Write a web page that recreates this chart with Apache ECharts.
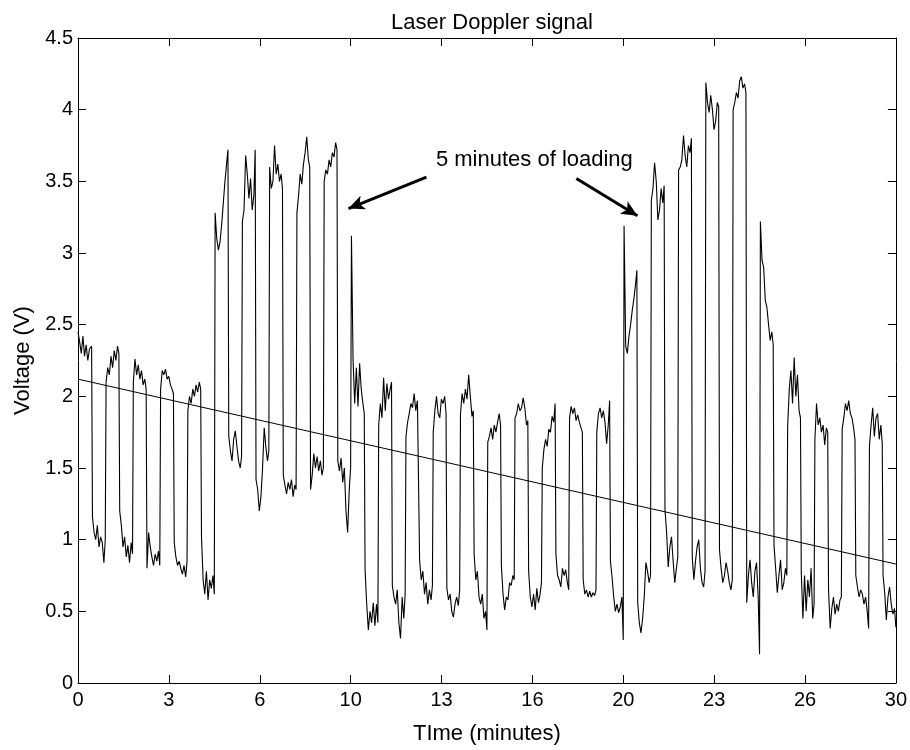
<!DOCTYPE html>
<html>
<head>
<meta charset="utf-8">
<script src="https://cdn.jsdelivr.net/npm/echarts@6/dist/echarts.min.js"></script>
<style>html,body{margin:0;padding:0;background:#fff;}#c{width:910px;height:750px;}</style>
</head>
<body>
<div id="c"></div>
<script>
// Laser Doppler signal: [time (min), voltage (V)]
const signal = [
[0.00,2.45],[0.06,2.38],[0.12,2.30],[0.18,2.42],[0.24,2.28],[0.30,2.36],[0.36,2.25],[0.42,2.33],[0.50,2.35],
[0.53,1.16],[0.59,1.05],[0.65,1.00],[0.71,1.10],[0.77,0.95],[0.83,1.02],[0.89,0.98],[0.95,0.84],[1.00,1.00],
[1.03,2.10],[1.09,2.20],[1.15,2.15],[1.21,2.28],[1.27,2.20],[1.33,2.32],[1.39,2.25],[1.45,2.35],[1.50,2.30],
[1.53,1.20],[1.59,1.10],[1.65,0.95],[1.71,1.02],[1.77,0.88],[1.83,0.96],[1.89,0.84],[1.95,0.98],[2.00,0.90],
[2.03,2.10],[2.09,2.26],[2.15,2.15],[2.21,2.22],[2.27,2.12],[2.33,2.18],[2.39,2.08],[2.45,2.12],[2.50,2.05],
[2.53,0.80],[2.59,1.05],[2.65,0.95],[2.71,0.88],[2.77,0.82],[2.83,0.90],[2.89,0.85],[2.95,0.92],[3.00,0.82],
[3.03,2.05],[3.09,2.18],[3.15,2.15],[3.21,2.19],[3.27,2.12],[3.33,2.14],[3.39,2.08],[3.45,2.05],[3.50,2.02],
[3.53,0.98],[3.59,0.88],[3.65,0.82],[3.71,0.85],[3.77,0.80],[3.83,0.76],[3.89,0.82],[3.95,0.74],[4.00,0.85],
[4.03,1.90],[4.09,2.00],[4.15,1.95],[4.21,2.05],[4.27,2.00],[4.33,2.08],[4.39,2.03],[4.45,2.10],[4.50,2.05],
[4.53,1.02],[4.59,0.72],[4.65,0.62],[4.71,0.78],[4.77,0.58],[4.83,0.72],[4.89,0.66],[4.95,0.75],[5.00,0.62],
[5.03,3.28],[5.09,3.10],[5.15,3.02],[5.21,3.08],[5.27,3.20],[5.33,3.35],[5.39,3.50],[5.45,3.62],[5.50,3.72],
[5.53,1.72],[5.59,1.62],[5.65,1.55],[5.71,1.70],[5.77,1.76],[5.83,1.65],[5.89,1.55],[5.95,1.50],[6.00,1.58],
[6.03,3.22],[6.09,3.30],[6.15,3.68],[6.21,3.55],[6.27,3.38],[6.33,3.52],[6.39,3.30],[6.45,3.40],[6.50,3.72],
[6.53,1.42],[6.59,1.35],[6.65,1.20],[6.71,1.30],[6.77,1.50],[6.83,1.78],[6.89,1.65],[6.95,1.55],[7.00,1.62],
[7.03,3.60],[7.09,3.45],[7.15,3.50],[7.21,3.75],[7.27,3.55],[7.33,3.62],[7.39,3.50],[7.45,3.55],[7.50,3.45],
[7.53,1.45],[7.59,1.38],[7.65,1.32],[7.71,1.40],[7.77,1.35],[7.83,1.42],[7.89,1.30],[7.95,1.38],[8.00,1.35],
[8.03,3.28],[8.09,3.40],[8.15,3.55],[8.21,3.48],[8.27,3.62],[8.33,3.70],[8.39,3.81],[8.45,3.65],[8.50,3.60],
[8.53,1.35],[8.59,1.45],[8.65,1.60],[8.71,1.50],[8.77,1.58],[8.83,1.48],[8.89,1.55],[8.95,1.45],[9.00,1.50],
[9.03,3.50],[9.09,3.58],[9.15,3.55],[9.21,3.65],[9.27,3.60],[9.33,3.70],[9.39,3.67],[9.45,3.77],[9.50,3.72],
[9.53,1.55],[9.59,1.48],[9.65,1.57],[9.71,1.40],[9.77,1.50],[9.83,1.20],[9.89,1.05],[9.95,1.35],[10.00,1.50],
[10.03,3.12],[10.09,2.25],[10.15,1.95],[10.21,2.20],[10.27,1.93],[10.33,2.23],[10.39,2.05],[10.45,1.95],[10.50,1.88],
[10.53,0.79],[10.59,0.55],[10.65,0.37],[10.71,0.50],[10.77,0.42],[10.83,0.56],[10.89,0.40],[10.95,0.55],[11.00,0.42],
[11.03,1.80],[11.09,1.95],[11.15,1.85],[11.21,2.13],[11.27,1.90],[11.33,2.09],[11.39,1.98],[11.45,2.05],[11.50,2.10],
[11.53,0.68],[11.59,0.60],[11.65,0.55],[11.71,0.65],[11.77,0.42],[11.83,0.31],[11.89,0.60],[11.95,0.45],[12.00,0.62],
[12.03,1.72],[12.09,1.82],[12.15,1.88],[12.21,1.95],[12.27,1.92],[12.33,2.02],[12.39,1.90],[12.45,1.97],[12.50,1.98],
[12.53,0.86],[12.59,0.72],[12.65,0.78],[12.71,0.62],[12.77,0.70],[12.83,0.55],[12.89,0.65],[12.95,0.58],[13.00,0.68],
[13.03,1.75],[13.09,1.90],[13.15,2.00],[13.21,1.88],[13.27,1.85],[13.33,1.98],[13.39,1.95],[13.45,2.00],[13.50,1.88],
[13.53,0.66],[13.59,0.58],[13.65,0.62],[13.71,0.50],[13.77,0.46],[13.83,0.55],[13.89,0.60],[13.95,0.54],[14.00,0.65],
[14.03,1.88],[14.09,2.02],[14.15,1.95],[14.21,2.05],[14.27,1.98],[14.33,2.15],[14.39,2.00],[14.45,1.86],[14.50,1.90],
[14.53,0.90],[14.59,0.72],[14.65,0.78],[14.71,0.60],[14.77,0.55],[14.83,0.62],[14.89,0.45],[14.95,0.50],[15.00,0.37],
[15.03,1.68],[15.09,1.72],[15.15,1.78],[15.21,1.70],[15.27,1.80],[15.33,1.75],[15.39,1.82],[15.45,1.88],[15.50,1.80],
[15.53,0.82],[15.59,0.62],[15.65,0.51],[15.71,0.60],[15.77,0.58],[15.83,0.70],[15.89,0.68],[15.95,0.75],[16.00,0.72],
[16.03,1.85],[16.09,1.88],[16.15,1.95],[16.21,1.90],[16.27,1.92],[16.33,1.99],[16.39,1.92],[16.45,1.80],[16.50,1.83],
[16.53,0.78],[16.59,0.60],[16.65,0.53],[16.71,0.62],[16.77,0.51],[16.83,0.66],[16.89,0.56],[16.95,0.62],[17.00,0.70],
[17.03,1.50],[17.09,1.63],[17.15,1.70],[17.21,1.65],[17.27,1.77],[17.33,1.75],[17.39,1.86],[17.45,1.82],[17.50,1.95],
[17.53,0.90],[17.59,0.75],[17.65,0.72],[17.71,0.67],[17.77,0.80],[17.83,0.75],[17.89,0.79],[17.95,0.70],[18.00,0.65],
[18.03,1.85],[18.09,1.93],[18.15,1.88],[18.21,1.92],[18.27,1.83],[18.33,1.87],[18.39,1.82],[18.45,1.78],[18.50,1.75],
[18.53,0.72],[18.59,0.62],[18.65,0.65],[18.71,0.60],[18.77,0.64],[18.83,0.60],[18.89,0.63],[18.95,0.61],[19.00,0.65],
[19.03,1.75],[19.09,1.88],[19.15,1.92],[19.21,1.85],[19.27,1.90],[19.33,1.82],[19.39,1.67],[19.45,1.80],[19.50,1.97],
[19.53,0.85],[19.59,0.74],[19.65,0.60],[19.71,0.50],[19.77,0.55],[19.83,0.49],[19.89,0.53],[19.95,0.60],[20.00,0.30],
[20.03,3.19],[20.09,2.35],[20.15,2.30],[20.21,2.42],[20.27,2.50],[20.33,2.60],[20.39,2.68],[20.45,2.78],[20.50,2.88],
[20.53,0.56],[20.59,0.42],[20.65,0.35],[20.71,0.45],[20.77,0.60],[20.83,0.84],[20.89,0.78],[20.95,0.70],[21.00,0.75],
[21.03,3.37],[21.09,3.45],[21.15,3.63],[21.21,3.50],[21.27,3.23],[21.33,3.30],[21.39,3.45],[21.45,3.35],[21.50,3.47],
[21.53,1.21],[21.59,1.05],[21.65,0.81],[21.71,0.95],[21.77,1.02],[21.83,0.85],[21.89,0.70],[21.95,0.80],[22.00,0.88],
[22.03,3.58],[22.09,3.60],[22.15,3.65],[22.21,3.82],[22.27,3.68],[22.33,3.60],[22.39,3.75],[22.45,3.70],[22.50,3.80],
[22.53,0.88],[22.59,0.72],[22.65,0.85],[22.71,0.95],[22.77,1.00],[22.83,0.80],[22.89,0.70],[22.95,0.67],[23.00,0.78],
[23.03,4.19],[23.09,4.05],[23.15,3.98],[23.21,4.10],[23.27,4.00],[23.33,3.86],[23.39,3.92],[23.45,4.05],[23.50,4.02],
[23.53,0.93],[23.59,0.80],[23.65,0.70],[23.71,0.75],[23.77,0.84],[23.83,0.78],[23.89,0.70],[23.95,0.65],[24.00,0.72],
[24.03,4.00],[24.09,4.05],[24.15,4.12],[24.21,4.08],[24.27,4.20],[24.33,4.23],[24.39,4.15],[24.45,4.18],[24.50,4.12],
[24.53,0.56],[24.59,0.75],[24.65,0.86],[24.71,0.70],[24.77,0.60],[24.83,0.78],[24.89,0.84],[24.95,0.60],[25.00,0.20],
[25.03,3.22],[25.09,2.95],[25.15,2.90],[25.21,2.67],[25.27,2.62],[25.33,2.50],[25.39,2.39],[25.45,2.45],[25.50,2.36],
[25.53,0.96],[25.59,0.80],[25.65,0.63],[25.71,0.75],[25.77,0.86],[25.83,0.65],[25.89,0.70],[25.95,0.80],[26.00,0.75],
[26.03,1.79],[26.09,2.05],[26.15,2.18],[26.21,1.95],[26.27,2.27],[26.33,2.00],[26.39,2.15],[26.45,1.90],[26.50,1.85],
[26.53,0.77],[26.59,0.45],[26.65,0.75],[26.71,0.50],[26.77,0.72],[26.83,0.60],[26.89,0.80],[26.95,0.45],[27.00,0.55],
[27.03,1.70],[27.09,1.95],[27.15,1.80],[27.21,1.85],[27.27,1.75],[27.33,1.80],[27.39,1.66],[27.45,1.78],[27.50,1.75],
[27.53,0.65],[27.59,0.38],[27.65,0.52],[27.71,0.60],[27.77,0.48],[27.83,0.55],[27.89,0.50],[27.95,0.58],[28.00,0.60],
[28.03,1.77],[28.09,1.85],[28.15,1.95],[28.21,1.90],[28.27,1.97],[28.33,1.88],[28.39,1.85],[28.45,1.78],[28.50,1.70],
[28.53,0.75],[28.59,0.67],[28.65,0.60],[28.71,0.65],[28.77,0.62],[28.83,0.55],[28.89,0.60],[28.95,0.50],[29.00,0.38],
[29.03,1.65],[29.09,1.80],[29.15,1.92],[29.21,1.72],[29.27,1.85],[29.33,1.88],[29.39,1.70],[29.45,1.80],[29.50,1.67],
[29.53,0.75],[29.59,0.63],[29.65,0.44],[29.71,0.60],[29.77,0.67],[29.83,0.55],[29.89,0.48],[29.95,0.52],[30.00,0.39]
];
// Linear trend line end points
const trend = [[0, 2.12], [30, 0.83]];
// Annotation
const annotationText = '5 minutes of loading';
const annotationPos = [16.74, 3.65];
const arrowLeft = [[12.78, 3.53], [9.92, 3.31]];
const arrowRight = [[18.28, 3.52], [20.52, 3.26]];
// Axis ticks
const xMin = 0, xMax = 30, xStep = 10 / 3;
const yMin = 0, yMax = 4.5, yStep = 0.5;

const FONT = 'Liberation Sans, Arial, Helvetica, sans-serif';
const chart = echarts.init(document.getElementById('c'), null, {renderer: 'canvas'});
function axisBase() {
  return {
    axisLine: {show: true, onZero: false, lineStyle: {color: '#000', width: 1}},
    axisTick: {show: true, inside: true, length: 8, lineStyle: {color: '#000'}},
    splitLine: {show: false}
  };
}
chart.setOption({
  animation: false,
  backgroundColor: '#fff',
  title: {
    text: 'Laser Doppler signal', left: 487, top: 7, textAlign: 'center',
    textStyle: {fontFamily: FONT, fontSize: 22, fontWeight: 'normal', color: '#000'}
  },
  grid: {left: 78, right: 13, top: 38, bottom: 67, containLabel: false},
  xAxis: [
    Object.assign(axisBase(), {
      type: 'value', min: xMin, max: xMax, interval: xStep, position: 'bottom',
      name: 'TIme (minutes)', nameLocation: 'middle', nameGap: 40,
      nameTextStyle: {fontFamily: FONT, fontSize: 22, color: '#000'},
      axisLabel: {color: '#000', fontFamily: FONT, fontSize: 20, margin: 7,
        formatter: v => String(Math.floor(v + 1e-6))}
    }),
    Object.assign(axisBase(), {
      type: 'value', min: xMin, max: xMax, interval: xStep, position: 'top',
      axisLabel: {show: false}
    })
  ],
  yAxis: [
    Object.assign(axisBase(), {
      type: 'value', min: yMin, max: yMax, interval: yStep, position: 'left',
      name: 'Voltage (V)', nameLocation: 'middle', nameGap: 44, nameRotate: 90,
      nameTextStyle: {fontFamily: FONT, fontSize: 22, color: '#000'},
      axisLabel: {color: '#000', fontFamily: FONT, fontSize: 20, margin: 5,
        formatter: v => String(Math.round(v * 10) / 10)}
    }),
    Object.assign(axisBase(), {
      type: 'value', min: yMin, max: yMax, interval: yStep, position: 'right',
      axisLabel: {show: false}
    })
  ],
  series: [
    {
      type: 'line', data: signal, showSymbol: false, symbol: 'none',
      lineStyle: {color: '#000', width: 1.1}, z: 3
    },
    {
      type: 'line', data: trend, showSymbol: false, symbol: 'none',
      lineStyle: {color: '#000', width: 1}, z: 3,
      markLine: {
        silent: true, symbol: ['none', 'arrow'], symbolSize: [11, 16],
        lineStyle: {color: '#000', width: 3, type: 'solid'},
        label: {show: false},
        data: [
          [{coord: arrowLeft[0]}, {coord: arrowLeft[1]}],
          [{coord: arrowRight[0]}, {coord: arrowRight[1]}]
        ]
      },
      markPoint: {
        silent: true, symbol: 'circle', symbolSize: 0,
        label: {show: true, position: 'inside', formatter: annotationText,
          fontFamily: FONT, fontSize: 22, color: '#000'},
        data: [{coord: annotationPos}]
      }
    }
  ]
});
</script>
</body>
</html>
